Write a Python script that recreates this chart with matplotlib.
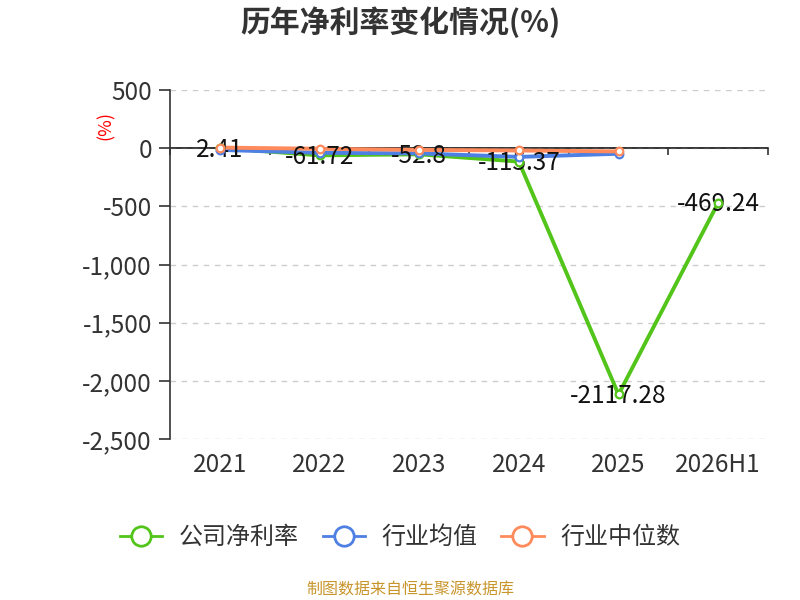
import matplotlib
matplotlib.use('Agg')
import matplotlib.pyplot as plt
from matplotlib.lines import Line2D
from matplotlib.ticker import FuncFormatter

plt.rcParams['font.family'] = ['Noto Sans CJK SC', 'DejaVu Sans']
plt.rcParams['axes.unicode_minus'] = False

years = ['2021', '2022', '2023', '2024', '2025', '2026H1']
company = [2.41, -61.72, -52.8, -115.37, -2117.28, -469.24]
industryAvg = [-15, -40, -45, -75, -48]
industryMedian = [5, -5, -15, -20, -28]

seriesNames = ['公司净利率', '行业均值', '行业中位数']
colors = ['#52C41A', '#4E7FE3', '#FF8A5B']

fig = plt.figure(figsize=(8, 6), dpi=100)
ax = fig.add_axes([0.2125, 0.2683, 0.7475, 0.5817])

x = list(range(len(years)))
allSeries = [company, industryAvg, industryMedian]

# lines first, then labels, then markers on top
for i, vals in enumerate(allSeries):
    ax.plot(x[:len(vals)], vals, color=colors[i], lw=2.8, zorder=3 + i,
            solid_capstyle='round')

for xi, v in zip(x, company):
    ax.annotate(f'{v:g}', (xi, v), xytext=(0, 1), textcoords='offset points',
                ha='center', va='center_baseline', fontsize=17.5, color='#111',
                zorder=7)

for i, vals in enumerate(allSeries):
    ax.plot(x[:len(vals)], vals, ls='none', marker='o', markersize=5.5,
            markerfacecolor='white', markeredgecolor=colors[i],
            markeredgewidth=1.6, zorder=8 + i)

ax.set_xlim(-0.5, len(years) - 0.5)
ax.set_ylim(-2500, 500)
ax.set_yticks(range(-2500, 501, 500))
ax.yaxis.set_major_formatter(FuncFormatter(lambda v, p: f'{v:,.0f}'))
ax.grid(axis='y', color='#cccccc', lw=1, ls=(0, (4, 4)))
ax.set_axisbelow(True)

for s in ['top', 'right', 'bottom']:
    ax.spines[s].set_visible(False)
ax.spines['left'].set_color('#333333')
ax.spines['left'].set_linewidth(1.2)

ax.set_xticks(x)
ax.set_xticklabels(years)
ax.tick_params(axis='x', length=0, pad=9, labelsize=17.5, labelcolor='#333333')
ax.tick_params(axis='y', length=8, width=1.2, color='#333333', pad=5,
               labelsize=17.5, labelcolor='#333333')

# category axis line sits on zero
ymin, ymax = ax.get_ylim()
zeroAxis = ax.secondary_xaxis((0 - ymin) / (ymax - ymin))
zeroAxis.xaxis.set_ticks_position('bottom')
for sp in zeroAxis.spines.values():
    sp.set_color('#333333')
    sp.set_linewidth(1.2)
zeroAxis.set_xticks([b - 0.5 for b in range(len(years) + 1)])
zeroAxis.tick_params(axis='x', length=5, width=1.2, color='#333333',
                     direction='out', labelbottom=False, labeltop=False)
ax.axhline(0, color='#333333', lw=1.2, zorder=2)

fig.text(106 / 800, 1 - 125 / 600, '(%)', rotation=90, color='red',
         fontsize=13, ha='center', va='center')

fig.text(0.5, 1 - 22 / 600, '历年净利率变化情况(%)', ha='center', va='center',
         fontsize=21.5, fontweight='bold', color='#333333')

handles = [Line2D([], [], color=c, lw=2, marker='o', markersize=14,
                  markerfacecolor='white', markeredgewidth=2)
           for c in colors]
fig.legend(handles, seriesNames, loc='center', bbox_to_anchor=(0.5, 1 - 537 / 600),
           ncol=3, frameon=False, fontsize=17.3, handlelength=1.75,
           handletextpad=0.7, columnspacing=1.0, labelcolor='#333333')

fig.text(0.5125, 1 - 590 / 600, '制图数据来自恒生聚源数据库', ha='center', va='center',
         fontsize=11.5, color='#C8952C')

fig.savefig('out.png', dpi=100)
